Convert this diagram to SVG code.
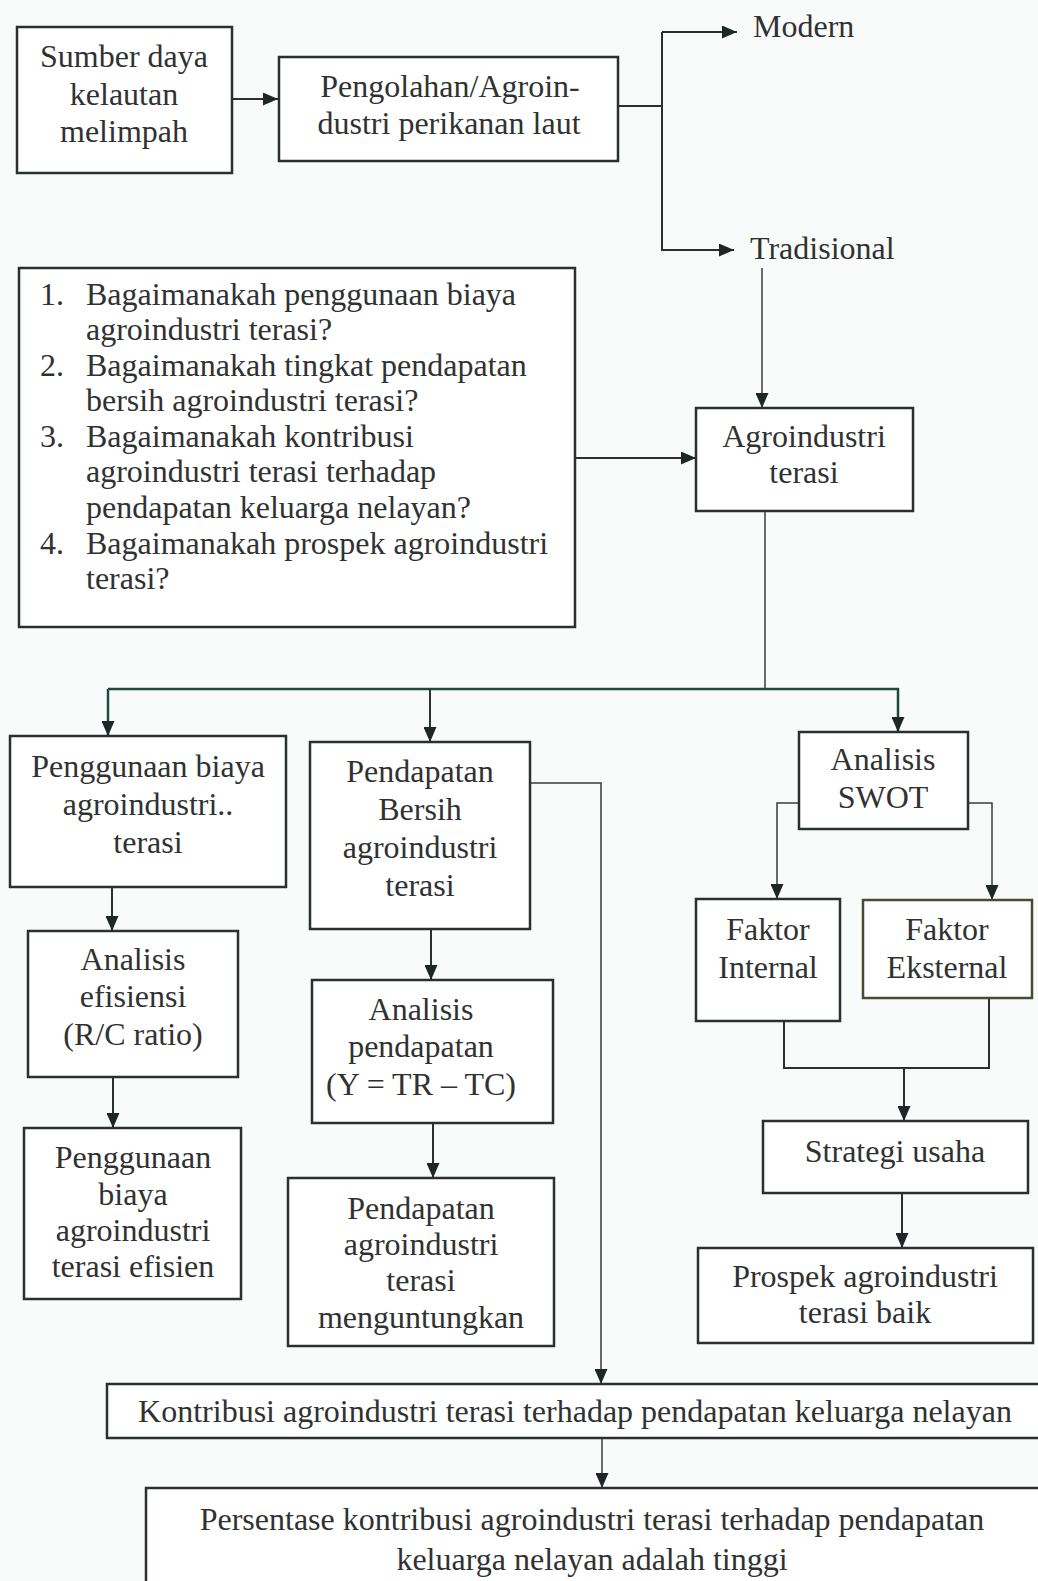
<svg xmlns="http://www.w3.org/2000/svg" width="1038" height="1581" viewBox="0 0 1038 1581">
<style>
.bg{fill:#f9fbfb}
.box{fill:#ffffff;stroke:#2b2f2f;stroke-width:2.5}
.t{font-family:"Liberation Serif","Times New Roman",serif;font-size:32px;fill:#303232;text-anchor:middle}
.tl{font-family:"Liberation Serif","Times New Roman",serif;font-size:32px;fill:#303232}
.c{fill:none;stroke:#2b2f2f;stroke-width:2}
.thin{fill:none;stroke:#3a3d3d;stroke-width:1.5}
.bus{fill:none;stroke:#1f4a40;stroke-width:2.5}
</style>
<defs>
<marker id="ah" markerUnits="userSpaceOnUse" markerWidth="15" markerHeight="13" refX="15" refY="6.5" orient="auto">
<path d="M0,0 L15,6.5 L0,13 z" fill="#1f2626"/>
</marker>
</defs>
<rect class="bg" x="0" y="0" width="1038" height="1581"/>

<g id="connectors">
<line class="c" x1="232" y1="99" x2="278" y2="99" marker-end="url(#ah)"/>
<polyline class="c" points="618,106 662,106"/>
<polyline class="c" points="662,32 662,250 734,250" marker-end="url(#ah)"/>
<line class="c" x1="662" y1="32" x2="737" y2="32" marker-end="url(#ah)"/>
<line class="thin" x1="762" y1="268" x2="762" y2="408" marker-end="url(#ah)"/>
<line class="c" x1="575" y1="458" x2="696" y2="458" marker-end="url(#ah)"/>
<line class="thin" x1="765" y1="511" x2="765" y2="689"/>
<polyline class="bus" points="108,689 898,689 898,732" marker-end="url(#ah)"/>
<line class="bus" x1="108" y1="689" x2="108" y2="736" marker-end="url(#ah)"/>
<line class="c" x1="430" y1="689" x2="430" y2="742" marker-end="url(#ah)"/>
<line class="c" x1="112" y1="887" x2="112" y2="931" marker-end="url(#ah)"/>
<line class="c" x1="113" y1="1077" x2="113" y2="1128" marker-end="url(#ah)"/>
<line class="c" x1="431" y1="929" x2="431" y2="980" marker-end="url(#ah)"/>
<line class="c" x1="433" y1="1123" x2="433" y2="1178" marker-end="url(#ah)"/>
<polyline class="thin" points="530,783 601,783 601,1384" marker-end="url(#ah)"/>
<polyline class="thin" points="799,803 777,803 777,899" marker-end="url(#ah)"/>
<polyline class="thin" points="968,803 992,803 992,900" marker-end="url(#ah)"/>
<polyline class="c" points="784,1021 784,1068 989,1068 989,998"/>
<line class="c" x1="904" y1="1068" x2="904" y2="1121" marker-end="url(#ah)"/>
<line class="c" x1="902" y1="1193" x2="902" y2="1248" marker-end="url(#ah)"/>
<line class="thin" x1="602" y1="1438" x2="602" y2="1488" marker-end="url(#ah)"/>
</g>

<g id="sumber">
<rect class="box" x="17" y="27" width="215" height="146"/>
<text class="t" x="124" y="67">Sumber daya</text>
<text class="t" x="124" y="105">kelautan</text>
<text class="t" x="124" y="142">melimpah</text>
</g>

<g id="pengolahan">
<rect class="box" x="279" y="57" width="339" height="104"/>
<text class="t" x="450" y="97">Pengolahan/Agroin-</text>
<text class="t" x="449" y="134">dustri perikanan laut</text>
</g>

<g id="modern"><text class="tl" x="753" y="37">Modern</text></g>
<g id="tradisional"><text class="tl" x="750" y="259">Tradisional</text></g>

<g id="pertanyaan">
<rect class="box" x="19" y="268" width="556" height="359"/>
<text class="tl" x="40" y="305">1.</text>
<text class="tl" x="86" y="305">Bagaimanakah penggunaan biaya</text>
<text class="tl" x="86" y="340">agroindustri terasi?</text>
<text class="tl" x="40" y="376">2.</text>
<text class="tl" x="86" y="376">Bagaimanakah tingkat pendapatan</text>
<text class="tl" x="86" y="411">bersih agroindustri terasi?</text>
<text class="tl" x="40" y="447">3.</text>
<text class="tl" x="86" y="447">Bagaimanakah kontribusi</text>
<text class="tl" x="86" y="482">agroindustri terasi terhadap</text>
<text class="tl" x="86" y="518">pendapatan keluarga nelayan?</text>
<text class="tl" x="40" y="554">4.</text>
<text class="tl" x="86" y="554">Bagaimanakah prospek agroindustri</text>
<text class="tl" x="86" y="589">terasi?</text>
</g>

<g id="agroindustri">
<rect class="box" x="696" y="408" width="217" height="103"/>
<text class="t" x="804" y="447">Agroindustri</text>
<text class="t" x="804" y="483">terasi</text>
</g>

<g id="penggunaan-biaya">
<rect class="box" x="10" y="736" width="276" height="151"/>
<text class="t" x="148" y="777">Penggunaan biaya</text>
<text class="t" x="148" y="815">agroindustri..</text>
<text class="t" x="148" y="853">terasi</text>
</g>

<g id="pendapatan-bersih">
<rect class="box" x="310" y="742" width="220" height="187"/>
<text class="t" x="420" y="782">Pendapatan</text>
<text class="t" x="420" y="820">Bersih</text>
<text class="t" x="420" y="858">agroindustri</text>
<text class="t" x="420" y="896">terasi</text>
</g>

<g id="analisis-swot">
<rect class="box" x="799" y="732" width="169" height="97"/>
<text class="t" x="883" y="770">Analisis</text>
<text class="t" x="883" y="808">SWOT</text>
</g>

<g id="analisis-efisiensi">
<rect class="box" x="28" y="931" width="210" height="146"/>
<text class="t" x="133" y="970">Analisis</text>
<text class="t" x="133" y="1007">efisiensi</text>
<text class="t" x="133" y="1045">(R/C ratio)</text>
</g>

<g id="analisis-pendapatan">
<rect class="box" x="312" y="980" width="241" height="143"/>
<text class="t" x="421" y="1020">Analisis</text>
<text class="t" x="421" y="1057">pendapatan</text>
<text class="t" x="421" y="1095">(Y = TR – TC)</text>
</g>

<g id="faktor-internal">
<rect class="box" x="696" y="899" width="144" height="122"/>
<text class="t" x="768" y="940">Faktor</text>
<text class="t" x="768" y="978">Internal</text>
</g>

<g id="faktor-eksternal">
<rect class="box" x="863" y="900" width="169" height="98" style="stroke:#4a4a30"/>
<text class="t" x="947" y="940">Faktor</text>
<text class="t" x="947" y="978">Eksternal</text>
</g>

<g id="strategi-usaha">
<rect class="box" x="763" y="1121" width="265" height="72"/>
<text class="t" x="895" y="1162">Strategi usaha</text>
</g>

<g id="penggunaan-efisien">
<rect class="box" x="24" y="1128" width="217" height="171"/>
<text class="t" x="133" y="1168">Penggunaan</text>
<text class="t" x="133" y="1205">biaya</text>
<text class="t" x="133" y="1241">agroindustri</text>
<text class="t" x="133" y="1277">terasi efisien</text>
</g>

<g id="pendapatan-menguntungkan">
<rect class="box" x="288" y="1178" width="266" height="168"/>
<text class="t" x="421" y="1219">Pendapatan</text>
<text class="t" x="421" y="1255">agroindustri</text>
<text class="t" x="421" y="1291">terasi</text>
<text class="t" x="421" y="1328">menguntungkan</text>
</g>

<g id="prospek">
<rect class="box" x="698" y="1248" width="335" height="95"/>
<text class="t" x="865" y="1287">Prospek agroindustri</text>
<text class="t" x="865" y="1323">terasi baik</text>
</g>

<g id="kontribusi">
<rect class="box" x="107" y="1384" width="940" height="54"/>
<text class="t" x="575" y="1422">Kontribusi agroindustri terasi terhadap pendapatan keluarga nelayan</text>
</g>

<g id="persentase">
<rect class="box" x="146" y="1488" width="900" height="110"/>
<text class="t" x="592" y="1530">Persentase kontribusi agroindustri terasi terhadap pendapatan</text>
<text class="t" x="592" y="1570">keluarga nelayan adalah tinggi</text>
</g>
</svg>
